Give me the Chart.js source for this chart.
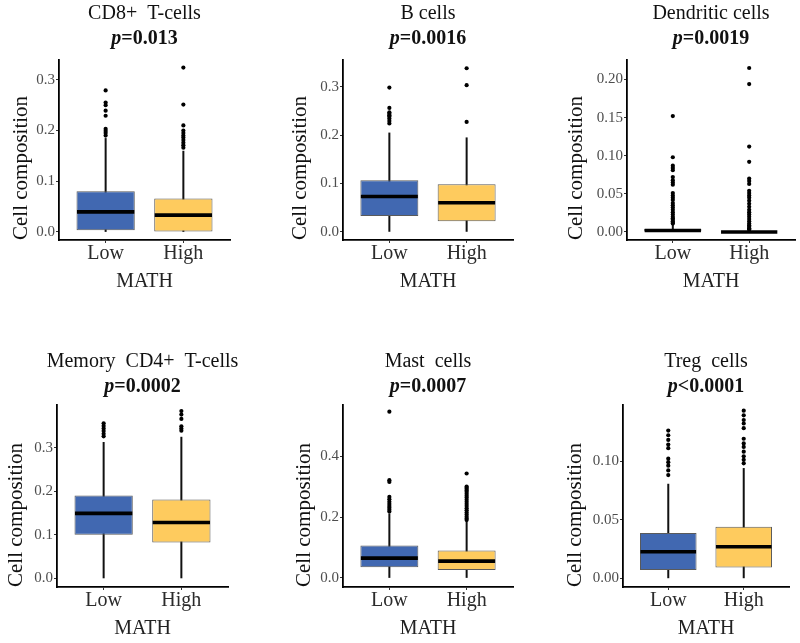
<!DOCTYPE html>
<html>
<head>
<meta charset="utf-8">
<script src="https://cdn.jsdelivr.net/npm/chart.js@4.4.1/dist/chart.umd.min.js"></script>
<style>
  body { margin: 0; background: #fff; }
  #wrap { position: relative; width: 800px; height: 643px; overflow: hidden; }
  canvas { position: absolute; }
</style>
</head>
<body>
<div id="wrap"></div>
<script>
const groups = ['Low', 'High'];
const cellTypes = ['CD8+  T-cells', 'B cells', 'Dendritic cells', 'Memory  CD4+  T-cells', 'Mast  cells', 'Treg  cells'];
const pLabels = ['p=0.013', 'p=0.0016', 'p=0.0019', 'p=0.0002', 'p=0.0007', 'p<0.0001'];

// box statistics, one [Low, High] pair per panel
const q1 = [[0.003, 0.0], [0.0325, 0.022], [0.0, 0.0], [0.100, 0.082], [0.035, 0.026], [0.0069, 0.0091]];
const median = [[0.0395, 0.033], [0.073, 0.060], [0.002, 0.0], [0.149, 0.128], [0.065, 0.055], [0.0226, 0.0268]];
const q3 = [[0.080, 0.066], [0.1065, 0.098], [0.004, 0.001], [0.190, 0.181], [0.106, 0.090], [0.0386, 0.044]];
const whiskerLo = [[0.0, 0.0], [0.0, 0.0], [0.0, 0.0], [0.0, 0.0], [0.0, 0.0], [0.0, 0.0]];
const whiskerHi = [[0.185, 0.160], [0.205, 0.195], [0.010, 0.0025], [0.313, 0.325], [0.212, 0.186], [0.0806, 0.094]];

const outliersLow = [
  [0.279, 0.255, 0.250, 0.239, 0.229, 0.203, 0.199, 0.195, 0.190],
  [0.298, 0.256, 0.247, 0.244, 0.241, 0.238, 0.234, 0.229, 0.224],
  [0.152, 0.098, 0.087, 0.084, 0.081, 0.072, 0.068, 0.065, 0.062, 0.051, 0.048, 0.045, 0.042, 0.038,
   0.035, 0.032, 0.029, 0.026, 0.023, 0.020, 0.018, 0.016, 0.014, 0.012, 0.011],
  [0.356, 0.350, 0.344, 0.338, 0.332, 0.326],
  [0.546, 0.321, 0.315, 0.266, 0.258, 0.250, 0.243, 0.236, 0.230, 0.224, 0.218],
  [0.126, 0.122, 0.118, 0.114, 0.111, 0.102, 0.099, 0.096, 0.092, 0.088]
];
const outliersHigh = [
  [0.324, 0.251, 0.210, 0.200, 0.195, 0.190, 0.186, 0.181, 0.176, 0.171, 0.166],
  [0.338, 0.303, 0.227],
  [0.215, 0.194, 0.112, 0.092, 0.070, 0.067, 0.063, 0.054, 0.051, 0.048, 0.045, 0.041, 0.037, 0.033,
   0.029, 0.026, 0.023, 0.020, 0.017, 0.014, 0.011, 0.009, 0.007, 0.005, 0.004, 0.003],
  [0.384, 0.376, 0.366, 0.349, 0.344, 0.339],
  [0.343, 0.300, 0.296, 0.292, 0.287, 0.282, 0.276, 0.270, 0.264, 0.257, 0.250, 0.243, 0.236, 0.229,
   0.222, 0.215, 0.208, 0.201, 0.195, 0.190],
  [0.143, 0.139, 0.135, 0.132, 0.128, 0.119, 0.115, 0.112, 0.108, 0.104, 0.101, 0.098]
];

// y axis ranges and tick spacing
const yMin = [-0.016, -0.017, -0.0105, -0.02, -0.03, -0.0075];
const yMax = [0.339, 0.355, 0.2255, 0.398, 0.568, 0.1478];
const yStep = [0.1, 0.1, 0.05, 0.1, 0.2, 0.05];
const yDecimals = [1, 1, 2, 1, 1, 2];

// where each panel sits on the page (width = up to the end of the x axis)
const panelLayout = [
  { left: 5,   top: 0,   width: 225, height: 296, yWidth: 54, areaTop: 60 },
  { left: 284, top: 0,   width: 229, height: 296, yWidth: 59, areaTop: 60 },
  { left: 560, top: 0,   width: 235, height: 296, yWidth: 67, areaTop: 60 },
  { left: 0,   top: 348, width: 228, height: 295, yWidth: 57, areaTop: 57 },
  { left: 288, top: 348, width: 225, height: 295, yWidth: 55, areaTop: 57 },
  { left: 559, top: 348, width: 230, height: 295, yWidth: 64, areaTop: 57 }
];
const spareRight = 40; // room for titles wider than the plot

const fillColors = ['#4168b1', '#fecb5e'];
const serif = '"Liberation Serif", "Times New Roman", serif';

// whiskers behind the boxes, medians on top, plus the two title lines
const boxLines = {
  id: 'boxLines',
  beforeDatasetsDraw(chart, args, opts) {
    const { ctx, scales: { x, y } } = chart;
    ctx.save();
    ctx.strokeStyle = '#111';
    ctx.lineWidth = 2;
    opts.lo.forEach((lo, i) => {
      const px = x.getPixelForValue(i + 1);
      ctx.beginPath();
      ctx.moveTo(px, y.getPixelForValue(lo));
      ctx.lineTo(px, y.getPixelForValue(opts.hi[i]));
      ctx.stroke();
    });
    ctx.restore();
  },
  afterDatasetsDraw(chart, args, opts) {
    const { ctx, scales: { y } } = chart;
    const bars = chart.getDatasetMeta(1).data;
    ctx.save();
    ctx.strokeStyle = '#000';
    ctx.lineWidth = 3.6;
    opts.med.forEach((m, i) => {
      const el = bars[i];
      const py = y.getPixelForValue(m);
      ctx.beginPath();
      ctx.moveTo(el.x - el.width / 2 + 0.5, py);
      ctx.lineTo(el.x + el.width / 2 - 0.5, py);
      ctx.stroke();
    });
    ctx.restore();
  },
  afterDraw(chart, args, opts) {
    const { ctx, chartArea } = chart;
    const cx = (chartArea.left + chartArea.right) / 2;
    ctx.save();
    ctx.fillStyle = '#111';
    ctx.textBaseline = 'middle';
    ctx.textAlign = 'center';
    ctx.font = '20px ' + serif;
    ctx.fillText(opts.name, cx, 13.5);
    const head = opts.p.slice(0, 1);
    const rest = opts.p.slice(1);
    ctx.font = 'italic bold 20px ' + serif;
    const w1 = ctx.measureText(head).width;
    ctx.font = 'bold 20px ' + serif;
    const w2 = ctx.measureText(rest).width;
    const start = cx - (w1 + w2) / 2;
    ctx.textAlign = 'left';
    ctx.font = 'italic bold 20px ' + serif;
    ctx.fillText(head, start, 38.5);
    ctx.font = 'bold 20px ' + serif;
    ctx.fillText(rest, start + w1, 38.5);
    ctx.restore();
  }
};

const wrap = document.getElementById('wrap');

cellTypes.forEach((name, i) => {
  const lay = panelLayout[i];
  const canvas = document.createElement('canvas');
  canvas.width = lay.width + spareRight;
  canvas.height = lay.height;
  canvas.style.left = lay.left + 'px';
  canvas.style.top = lay.top + 'px';
  wrap.appendChild(canvas);

  const points = outliersLow[i].map(v => ({ x: 1, y: v }))
    .concat(outliersHigh[i].map(v => ({ x: 2, y: v })));

  new Chart(canvas, {
    type: 'bar',
    data: {
      datasets: [{
        type: 'scatter',
        data: points,
        pointRadius: 2.1,
        pointBackgroundColor: '#000',
        pointBorderWidth: 0
      }, {
        type: 'bar',
        data: groups.map((g, k) => ({ x: k + 1, y: [q1[i][k], q3[i][k]] })),
        backgroundColor: fillColors,
        borderColor: '#5a5a5a',
        borderWidth: 1,
        borderSkipped: false,
        barPercentage: 0.75,
        categoryPercentage: 1,
        grouped: false
      }]
    },
    options: {
      responsive: false,
      animation: false,
      events: [],
      layout: { padding: { top: lay.areaTop, left: 0, right: spareRight, bottom: 0 } },
      scales: {
        x: {
          type: 'linear',
          min: 0.4,
          max: 2.6,
          offset: false,
          afterBuildTicks: s => { s.ticks = groups.map((g, k) => ({ value: k + 1 })); },
          afterFit: s => { s.height = 56; },
          ticks: {
            callback: v => groups[v - 1],
            font: { family: serif, size: 20, lineHeight: 1 },
            color: '#2b2b2b',
            padding: 1,
            autoSkip: false,
            maxRotation: 0
          },
          grid: { display: true, offset: false, drawOnChartArea: false, tickLength: 3, tickColor: '#333', tickWidth: 1 },
          border: { display: true, color: '#000', width: 1.8 },
          title: { display: true, text: 'MATH', font: { family: serif, size: 20 }, color: '#222', padding: { top: 0, bottom: 2 } }
        },
        y: {
          min: yMin[i],
          max: yMax[i],
          afterFit: s => { s.width = lay.yWidth; },
          ticks: {
            stepSize: yStep[i],
            includeBounds: false,
            callback: v => v.toFixed(yDecimals[i]),
            font: { family: serif, size: 15 },
            color: '#4d4d4d',
            padding: 1
          },
          grid: { display: true, drawOnChartArea: false, tickLength: 3, tickColor: '#333', tickWidth: 1 },
          border: { display: true, color: '#000', width: 1.8 },
          title: { display: true, text: 'Cell composition', align: 'start', font: { family: serif, size: 21 }, color: '#111', padding: { top: 4, bottom: 0 } }
        }
      },
      plugins: {
        legend: { display: false },
        tooltip: { enabled: false },
        boxLines: { lo: whiskerLo[i], hi: whiskerHi[i], med: median[i], name: name, p: pLabels[i] }
      }
    },
    plugins: [boxLines]
  });
});
</script>
</body>
</html>
